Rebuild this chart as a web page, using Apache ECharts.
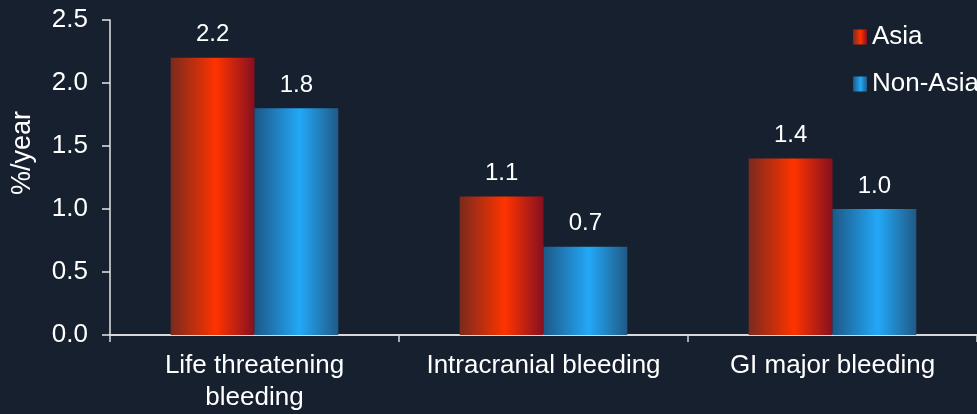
<!DOCTYPE html>
<html>
<head>
<meta charset="utf-8">
<style>
  html, body { margin: 0; padding: 0; background: #16202e; }
  #chart { width: 977px; height: 414px; }
</style>
<script src="https://cdn.jsdelivr.net/npm/echarts@6/dist/echarts.min.js"></script>
</head>
<body>
<div id="chart"></div>
<script>
// Annualised bleeding rates by region
const categories = ['Life threatening\nbleeding', 'Intracranial bleeding', 'GI major bleeding'];
const asiaValues = [2.2, 1.1, 1.4];
const nonAsiaValues = [1.8, 0.7, 1.0];
const seriesNames = ['Asia', 'Non-Asia'];
const yTicks = { min: 0, max: 2.5, interval: 0.5 };
const yAxisTitle = '%/year';

const FONT = "'Liberation Sans', Arial, Helvetica, sans-serif";
const TEXT = '#ffffff';

// Horizontal shading that gives the bars a cylindrical look
function shade(edgeL, peak, edgeR) {
  return new echarts.graphic.LinearGradient(0, 0, 1, 0, [
    { offset: 0, color: edgeL },
    { offset: 0.54, color: peak },
    { offset: 1, color: edgeR }
  ]);
}

const chart = echarts.init(document.getElementById('chart'));

const valueLabel = {
  show: true,
  position: 'top',
  distance: 11,
  color: TEXT,
  fontFamily: FONT,
  fontSize: 24,
  formatter: p => p.value.toFixed(1)
};

chart.setOption({
  backgroundColor: '#16202e',
  animation: false,
  // the plot runs a little past the right edge of the canvas
  grid: { left: 110, width: 876, top: 20, height: 318 },
  legend: {
    orient: 'vertical',
    left: 848,
    top: 19,
    padding: 5,
    itemWidth: 14,
    itemHeight: 15,
    itemGap: 21,
    icon: 'rect',
    textStyle: { color: TEXT, fontFamily: FONT, fontSize: 26 },
    data: seriesNames
  },
  xAxis: {
    type: 'category',
    data: categories,
    axisLine: { lineStyle: { color: '#d9d9d9', width: 2 } },
    axisTick: { show: true, length: 7, lineStyle: { color: '#d9d9d9', width: 1.5 } },
    axisLabel: {
      color: TEXT,
      fontFamily: FONT,
      fontSize: 26,
      lineHeight: 32,
      margin: 15,
      interval: 0
    }
  },
  yAxis: {
    type: 'value',
    min: yTicks.min,
    max: yTicks.max,
    interval: yTicks.interval,
    axisLine: { show: true, lineStyle: { color: '#e6e6e6', width: 1.5 } },
    axisTick: { show: true, length: 8, lineStyle: { color: '#e6e6e6', width: 1.5 } },
    splitLine: { show: false },
    axisLabel: {
      color: TEXT,
      fontFamily: FONT,
      fontSize: 26,
      margin: 22,
      formatter: v => v.toFixed(1)
    }
  },
  graphic: [{
    type: 'text',
    x: 23,
    y: 153,
    rotation: Math.PI / 2,
    style: {
      text: yAxisTitle,
      x: 0,
      y: 0,
      textAlign: 'center',
      textVerticalAlign: 'middle',
      fill: TEXT,
      font: '27px ' + FONT
    }
  }],
  series: [
    {
      name: seriesNames[0],
      type: 'bar',
      data: asiaValues,
      barGap: '0%',
      barCategoryGap: '42%',
      itemStyle: { color: shade('#7b2a1d', '#ff3300', '#861020') },
      label: valueLabel
    },
    {
      name: seriesNames[1],
      type: 'bar',
      data: nonAsiaValues,
      itemStyle: { color: shade('#1d5886', '#23a8f8', '#205a85') },
      label: valueLabel
    }
  ]
});
</script>
</body>
</html>
